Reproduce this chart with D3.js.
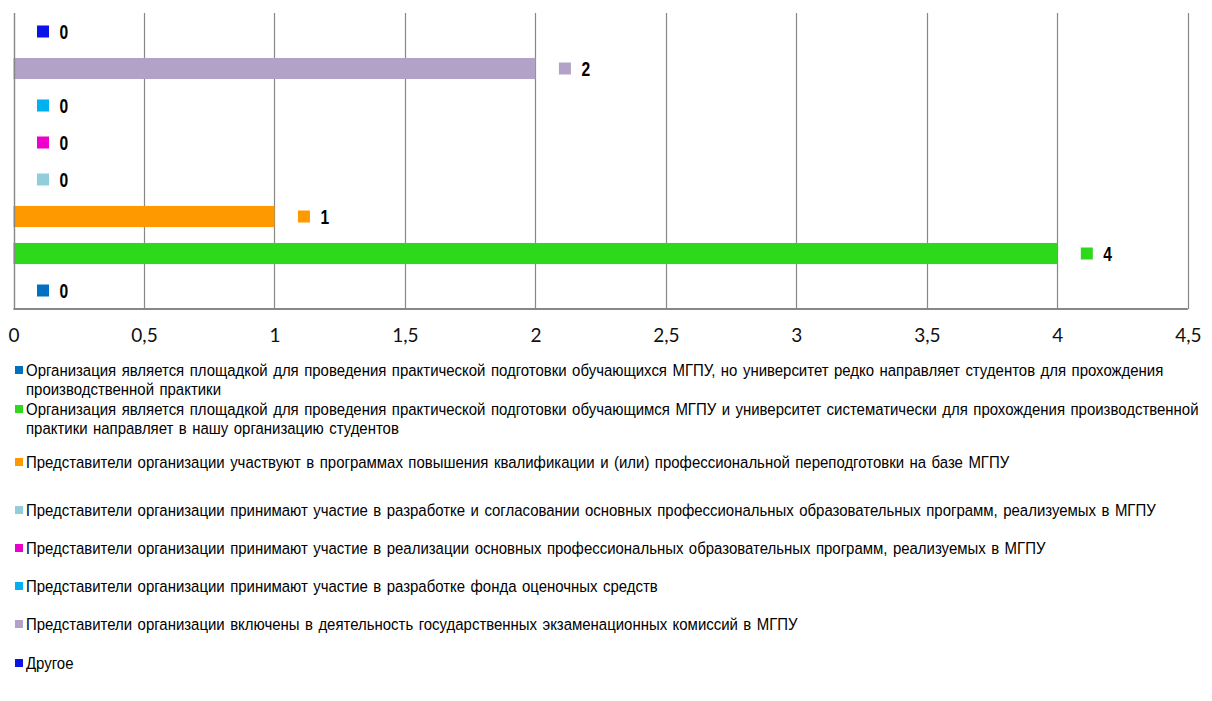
<!DOCTYPE html>
<html>
<head>
<meta charset="utf-8">
<script src="https://cdn.jsdelivr.net/npm/d3@7"></script>
<style>
  html, body { margin: 0; padding: 0; background: #fff; }
  svg { display: block; }
</style>
</head>
<body>
<svg id="chart" width="1212" height="701"></svg>
<script>
// ---- data ----
const categories = [
  "Организация является площадкой для проведения практической подготовки обучающихся МГПУ, но университет редко направляет студентов для прохождения производственной практики",
  "Организация является площадкой для проведения практической подготовки обучающимся МГПУ и университет систематически для прохождения производственной практики направляет в нашу организацию студентов",
  "Представители организации участвуют в программах повышения квалификации и (или) профессиональной переподготовки на базе МГПУ",
  "Представители организации принимают участие в разработке и согласовании основных профессиональных образовательных программ, реализуемых в МГПУ",
  "Представители организации принимают участие в реализации основных профессиональных образовательных программ, реализуемых в МГПУ",
  "Представители организации принимают участие в разработке фонда оценочных средств",
  "Представители организации включены в деятельность государственных экзаменационных комиссий в МГПУ",
  "Другое"
];
const values = [0, 4, 1, 0, 0, 0, 2, 0];
const colors = ["#0070c0", "#2ed91c", "#ff9900", "#92cddc", "#ee00cc", "#00b0f0", "#b3a2c7", "#0a14e6"];
const xTicks = [0, 0.5, 1, 1.5, 2, 2.5, 3, 3.5, 4, 4.5];
const xTickLabels = ["0", "0,5", "1", "1,5", "2", "2,5", "3", "3,5", "4", "4,5"];

// ---- layout ----
const svg = d3.select("#chart");
const plot = { left: 13.5, right: 1187.8, top: 13, bottom: 309 };
const gridColor = "#878787";
const narrowFont = "'Liberation Sans', Arial, sans-serif";

const x = d3.scaleLinear().domain([0, 4.5]).range([plot.left, plot.right]);
const idx = d3.range(categories.length);
const y = d3.scaleBand()
  .domain(idx.slice().reverse())
  .range([plot.top, plot.bottom])
  .paddingInner(0.43)
  .paddingOuter(0.215);

// gridlines
svg.append("g")
  .selectAll("line")
  .data(xTicks.filter(t => t > 0))
  .join("line")
  .attr("x1", d => Math.round(x(d)) + 0.5)
  .attr("x2", d => Math.round(x(d)) + 0.5)
  .attr("y1", plot.top)
  .attr("y2", plot.bottom)
  .attr("stroke", gridColor)
  .attr("stroke-width", 1.2);

// bars
svg.append("g")
  .selectAll("rect")
  .data(idx)
  .join("rect")
  .attr("x", x(0))
  .attr("y", i => y(i))
  .attr("width", i => x(values[i]) - x(0))
  .attr("height", y.bandwidth())
  .attr("fill", i => colors[i]);

// left axis line
svg.append("line")
  .attr("x1", Math.round(x(0)) + 0.5).attr("x2", Math.round(x(0)) + 0.5)
  .attr("y1", plot.top).attr("y2", plot.bottom + 1)
  .attr("stroke", gridColor).attr("stroke-width", 1.4);

// bottom axis
const xAxis = d3.axisBottom(x)
  .tickValues(xTicks)
  .tickSize(0)
  .tickPadding(20)
  .tickFormat((d, i) => xTickLabels[i]);
const gx = svg.append("g")
  .attr("transform", `translate(0,${plot.bottom})`)
  .call(xAxis);
gx.select(".domain").attr("stroke", gridColor).attr("stroke-width", 2).attr("d", `M${x(0)},0H${x(4.5)}`);
gx.selectAll("text")
  .attr("font-family", "Lato, 'Open Sans', sans-serif")
  .attr("font-size", 19)
  .attr("fill", "#111");

// data labels with marker
const lab = svg.append("g");
idx.forEach(i => {
  const bx = x(values[i]);
  const cy = y(i) + y.bandwidth() / 2;
  lab.append("rect")
    .attr("x", bx + 23.5).attr("y", cy - 6)
    .attr("width", 12).attr("height", 12)
    .attr("fill", colors[i]);
  lab.append("text")
    .attr("transform", `translate(${bx + 46},${cy}) scale(0.8,1)`)
    .attr("dy", "0.36em")
    .attr("font-family", narrowFont)
    .attr("font-weight", "bold")
    .attr("font-size", 19.5)
    .attr("fill", "#000")
    .text(values[i]);
});

// legend
const legendSize = 17;
const sx = 0.88;
const legendX = 26, legendMaxW = 1186 / sx;
const legendY = [370, 409, 462, 510, 548, 586, 624, 663];
const lineH = 19;
const leg = svg.append("g");
idx.forEach(i => {
  const ly = legendY[i];
  leg.append("rect")
    .attr("x", 15).attr("y", ly - 4)
    .attr("width", 8).attr("height", 8)
    .attr("fill", colors[i]);
  const t = leg.append("text")
    .attr("transform", `translate(${legendX},${ly}) scale(${sx},1)`)
    .attr("font-family", narrowFont)
    .attr("font-size", legendSize)
    .attr("word-spacing", 1.5)
    .attr("fill", "#000");
  const words = categories[i].split(" ");
  let line = [];
  let ts = t.append("tspan").attr("x", 0).attr("dy", "0.36em");
  words.forEach(w => {
    line.push(w);
    ts.text(line.join(" "));
    if (ts.node().getComputedTextLength() > legendMaxW && line.length > 1) {
      line.pop();
      ts.text(line.join(" "));
      line = [w];
      ts = t.append("tspan").attr("x", 0).attr("dy", lineH).text(w);
    }
  });
});
</script>
</body>
</html>
